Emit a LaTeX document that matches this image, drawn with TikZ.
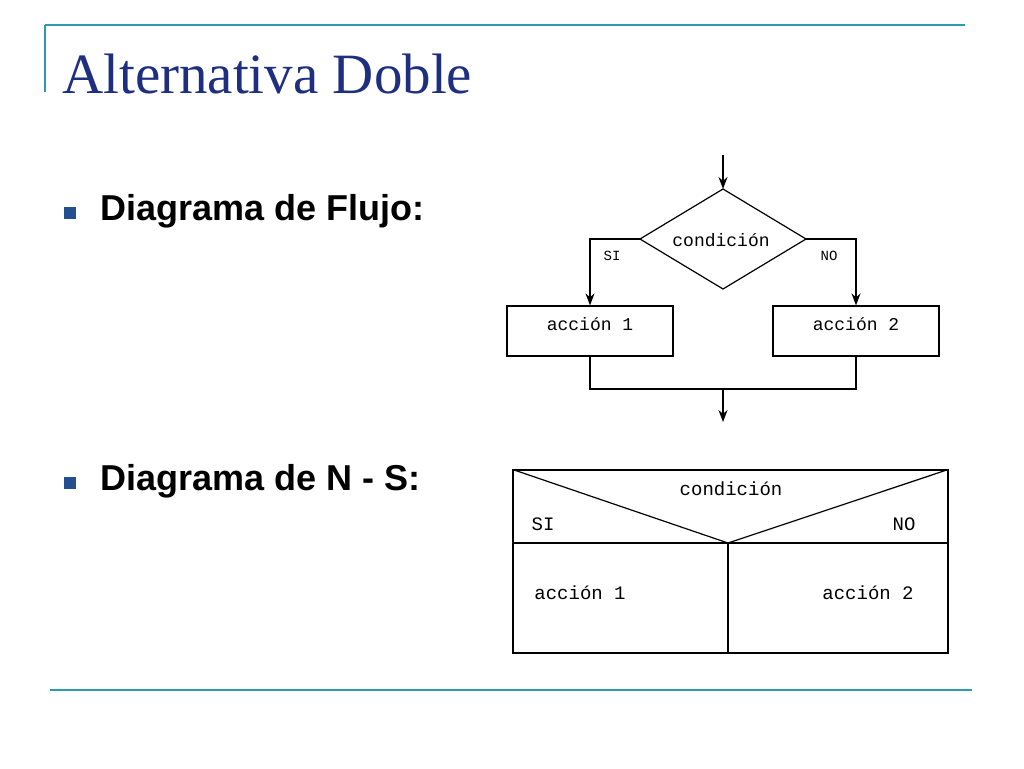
\documentclass[tikz,border=0pt]{standalone}
\usepackage{fontspec}
\setmainfont{Liberation Serif}
\setsansfont{Liberation Sans}
\setmonofont{Liberation Mono}
\usetikzlibrary{arrows.meta}
\definecolor{teal1}{HTML}{2E9AB0}
\definecolor{titleblue}{HTML}{1F2F7F}
\begin{document}
\begin{tikzpicture}[x=1pt,y=-1pt,
  ln/.style={line width=1.2pt,black},
  arr/.style={ln,-{Stealth[length=12pt,width=9pt]}},
  mono/.style={font=\ttfamily\fontsize{18}{20}\selectfont},
  bul/.style={fill=titleblue!70!teal1,minimum size=12pt,inner sep=0pt}]
\useasboundingbox (0,0) rectangle (1024,768);
% decorations
\draw[teal1,line width=2pt] (45,25) -- (965,25);
\draw[teal1,line width=2pt] (45,25) -- (45,92);
\draw[teal1,line width=2pt] (50,690) -- (972,690);
\node[anchor=base west,text=titleblue,font=\fontsize{57}{64}\selectfont,inner sep=0pt] (title) at (62,93) {Alternativa Doble};
% bullets
\node[bul] (b1) at (70,213) {};
\node[bul] (b2) at (70,483) {};
\node[anchor=west,font=\sffamily\bfseries\fontsize{36}{40}\selectfont] (t1) at (97,211) {Diagrama de Flujo:};
\node[anchor=west,font=\sffamily\bfseries\fontsize{36}{40}\selectfont] (t2) at (97,481) {Diagrama de N - S:};
% flowchart
\coordinate (top) at (723,155);
\coordinate (dt) at (723,189);
\coordinate (dl) at (640,239);
\coordinate (dr) at (806,239);
\coordinate (db) at (723,289);
\draw[arr] (top) -- (dt);
\draw[ln] (dt) -- (dr) -- (db) -- (dl) -- cycle;
\node[mono] (cond) at (721,240) {condición};
\node[ln,draw,minimum width=166pt,minimum height=50pt,mono,text depth=14pt] (a1) at (590,331) {acción 1};
\node[ln,draw,minimum width=166pt,minimum height=50pt,mono,text depth=14pt] (a2) at (856,331) {acción 2};
\draw[arr] (dl) -| (a1.north);
\draw[arr] (dr) -| (a2.north);
\node[mono,font=\ttfamily\fontsize{14}{16}\selectfont] (si) at (612,256) {SI};
\node[mono,font=\ttfamily\fontsize{14}{16}\selectfont] (no) at (829,256) {NO};
\coordinate (j) at (723,389);
\coordinate (e) at (723,422);
\draw[ln] (a1.south) |- (j) -| (a2.south);
\draw[arr] (j) -- (e);
% N-S
\node[ln,draw,minimum width=435pt,minimum height=183pt,inner sep=0pt] (ns) at (730.5,561.5) {};
\coordinate (m) at (728,543);
\draw[ln] (ns.north west) -- (m) -- (ns.north east);
\draw[ln] (513,543) -- (948,543);
\draw[ln] (m) -- (728,653);
\node[mono,font=\ttfamily\fontsize{19}{21}\selectfont] (c2) at (731,489) {condición};
\node[mono,font=\ttfamily\fontsize{19}{21}\selectfont] (s2) at (543,524) {SI};
\node[mono,font=\ttfamily\fontsize{19}{21}\selectfont] (n2) at (904,524) {NO};
\node[mono,font=\ttfamily\fontsize{19}{21}\selectfont] (x1) at (580,593) {acción 1};
\node[mono,font=\ttfamily\fontsize{19}{21}\selectfont] (x2) at (868,593) {acción 2};
\end{tikzpicture}
\end{document}
